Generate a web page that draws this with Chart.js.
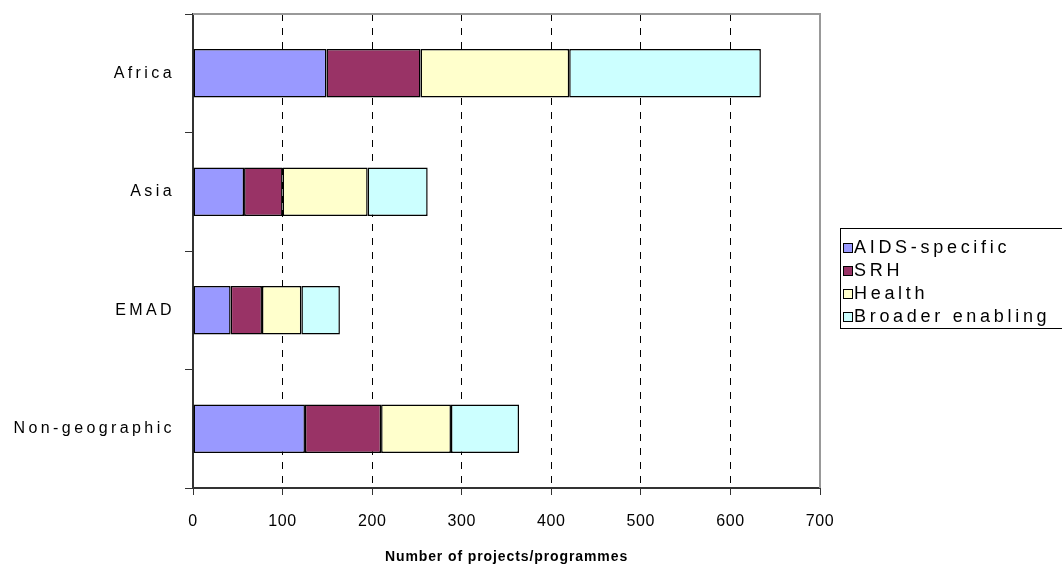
<!DOCTYPE html>
<html>
<head>
<meta charset="utf-8">
<script src="https://cdn.jsdelivr.net/npm/chart.js@4.4.1/dist/chart.umd.min.js"></script>
<style>
  html, body { margin: 0; padding: 0; background: #fff; }
  canvas { display: block; }
</style>
</head>
<body>
<canvas id="chart" width="1062" height="575"></canvas>
<script>
// ─── Data ───────────────────────────────────────────────────────────────
const regions = ["Africa", "Asia", "EMAD", "Non-geographic"];
const aidsSpecific = [149, 57, 42, 125];
const srh = [105, 43, 35, 85];
const health = [166, 95, 44, 78];
const broaderEnabling = [214, 67, 43, 76];
const xTicks = [0, 100, 200, 300, 400, 500, 600, 700];

const seriesNames = ["AIDS-specific", "SRH", "Health", "Broader enabling"];
const seriesColors = ["#9999FF", "#993366", "#FFFFCC", "#CCFFFF"];
const seriesValues = [aidsSpecific, srh, health, broaderEnabling];

const FONT = "'Liberation Sans', Arial, sans-serif";

// ─── Helpers ────────────────────────────────────────────────────────────
// wrap a scale's draw step so it gets its own letter spacing
function spaced(scale, method, px) {
  if (scale["_spaced_" + method]) return;
  scale["_spaced_" + method] = true;
  const orig = scale[method].bind(scale);
  scale[method] = function (area) {
    const prev = this.ctx.letterSpacing;
    this.ctx.letterSpacing = px;
    orig(area);
    this.ctx.letterSpacing = prev;
  };
}

// ─── Plugins ────────────────────────────────────────────────────────────
// grey top/right frame of the plot area
const frame = {
  id: "frame",
  afterDatasetsDraw(chart) {
    const { ctx, chartArea: a } = chart;
    ctx.save();
    ctx.strokeStyle = "#999";
    ctx.lineWidth = 2;
    ctx.beginPath();
    ctx.moveTo(a.left, a.top);
    ctx.lineTo(a.right, a.top);
    ctx.lineTo(a.right, a.bottom);
    ctx.stroke();
    ctx.restore();
  },
};

// legend box on the right, runs off the canvas edge like the original
const boxLegend = {
  id: "boxLegend",
  afterDraw(chart) {
    const ctx = chart.ctx;
    const x = 840, y = 228, rowH = 23;
    ctx.save();
    ctx.strokeStyle = "#000";
    ctx.lineWidth = 1;
    ctx.strokeRect(x + 0.5, y + 0.5, 300, 100);
    ctx.font = "18px " + FONT;
    ctx.letterSpacing = "3.7px";
    ctx.textBaseline = "middle";
    chart.data.datasets.forEach((ds, i) => {
      const cy = y + 19 + i * rowH;
      ctx.fillStyle = ds.backgroundColor;
      ctx.fillRect(x + 3, cy - 4, 10, 10);
      ctx.strokeStyle = "#000";
      ctx.strokeRect(x + 3.5, cy - 3.5, 9, 9);
      ctx.fillStyle = "#000";
      ctx.fillText(ds.label, x + 14, cy + 1);
    });
    ctx.restore();
  },
};

// ─── Chart ──────────────────────────────────────────────────────────────
new Chart(document.getElementById("chart"), {
  type: "bar",
  data: {
    labels: regions,
    datasets: seriesNames.map((name, i) => ({
      label: name,
      data: seriesValues[i],
      backgroundColor: seriesColors[i],
      borderColor: "#000",
      borderWidth: 1.5,
      borderSkipped: false,
      categoryPercentage: 1,
      barPercentage: 0.41,
    })),
  },
  options: {
    indexAxis: "y",
    responsive: false,
    animation: false,
    layout: { padding: { top: 14, right: 242, left: 0, bottom: 0 } },
    plugins: {
      legend: { display: false },
      tooltip: { enabled: false },
    },
    scales: {
      x: {
        stacked: true,
        min: 0,
        max: 700,
        afterBuildTicks(scale) { scale.ticks = xTicks.map(v => ({ value: v })); },
        afterFit(scale) {
          scale.height = 87;
          scale.paddingLeft = 0;
          scale.paddingRight = 0;
          spaced(scale, "drawLabels", "0.6px");
          spaced(scale, "drawTitle", "0.9px");
        },
        grid: {
          color: c => (c.tick && (c.tick.value === 0 || c.tick.value === 700)) ? "rgba(0,0,0,0)" : "#000",
          lineWidth: 1,
          tickColor: "#333",
          tickLength: 7,
        },
        border: { color: "#333", width: 2, dash: [7, 7] },
        ticks: {
          color: "#000",
          padding: 17,
          font: { family: FONT, size: 16 },
        },
        title: {
          display: true,
          text: "Number of projects/programmes",
          color: "#000",
          font: { family: FONT, size: 14, weight: "bold" },
          padding: { top: 10, bottom: 9 },
        },
      },
      y: {
        stacked: true,
        afterFit(scale) {
          scale.width = 193;
          scale.paddingTop = 0;
          scale.paddingBottom = 0;
          spaced(scale, "drawLabels", "3.4px");
        },
        grid: {
          drawOnChartArea: false,
          color: "#333",
          tickLength: 8,
          offset: true,
        },
        border: { color: "#333", width: 2 },
        ticks: {
          color: "#000",
          padding: 10,
          font: { family: FONT, size: 16 },
        },
      },
    },
  },
  plugins: [frame, boxLegend],
});
</script>
</body>
</html>
